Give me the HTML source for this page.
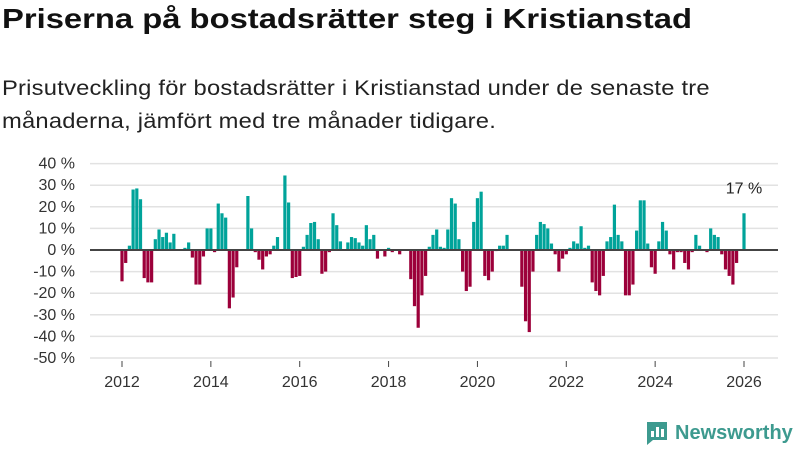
<!DOCTYPE html>
<html><head><meta charset="utf-8"><style>
body{margin:0;width:800px;height:450px;background:#fff;font-family:"Liberation Sans","DejaVu Sans",sans-serif;overflow:hidden;position:relative}
h1{position:absolute;left:2px;top:3px;margin:0;font-size:28px;font-weight:bold;color:#111;transform-origin:0 0;transform:scaleX(1.17);white-space:nowrap}
p{position:absolute;left:2px;top:72px;margin:0;font-size:21px;line-height:33px;color:#222;width:630px;letter-spacing:0.2px;transform-origin:0 0;transform:scaleX(1.13)}
</style></head><body>
<h1>Priserna på bostadsrätter steg i Kristianstad</h1>
<p>Prisutveckling för bostadsrätter i Kristianstad under de senaste tre månaderna, jämfört med tre månader tidigare.</p>
<svg id="chart" width="800" height="450" style="position:absolute;left:0;top:0"></svg>
<div style="position:absolute;left:645px;top:420px;display:flex;align-items:center;gap:6px;color:#3d9a8f;font-size:20px;font-weight:bold">
<svg width="24" height="26"><path d="M2 2h20v18H8l-6 5z" fill="#3d9a8f"/><rect x="6" y="11" width="3" height="6" fill="#fff"/><rect x="11" y="7" width="3" height="10" fill="#fff"/><rect x="16" y="9" width="3" height="8" fill="#fff"/></svg>
<span>Newsworthy</span></div>
<script>
const values=[-14.5,-6,2,28,28.5,23.5,-13,-15,-15,5,9.5,6,8,3.5,7.5,0,0,1,3.5,-3.5,-16,-16,-3,10,10,-1,21.5,17,15,-27,-22,-8,0,0,25,10,-1,-4.5,-9,-3,-2,2,6,
0,34.5,22,-13,-12.5,-12,1.5,7,12.5,13,5,-11,-10,-1,17,11.5,4,0,3.5,6,5.5,3.5,2,11.5,5,7,-4,0,-3,1,-1,0,-2,0,0,-13.5,-26,-36,-21,-12,1.5,7,9.5,
1.5,1,9.5,24,21.5,5,-10,-19,-17,13,24,27,-12,-14,-10,-0.5,2,2,7,0,0,0,-17,-33,-38,-10,7,13,12,10,3,-2,-10,-4,-2,1,4,3,11,1,2,-15,-19,-21,
-12,4,6,21,7,4,-21,-21,-16,9,23,23,3,-8,-11,4,13,9,-2,-9,-1,-1,-6,-9,-1,7,2,0,-1,10,7,6,-2,-9,-12,-16,-6,0,17];
const yTicks=[40,30,20,10,0,-10,-20,-30,-40,-50];
const xTickYears=[2012,2014,2016,2018,2020,2022,2024,2026];
const startYear=2012;
const svg=document.getElementById('chart');const NS='http://www.w3.org/2000/svg';
const n=values.length;
function xi(i){return 122+i*(744-122)/(n-1);}
function xYear(y){return xi((y-startYear)*12);}
function yv(v){return 250-v*2.16;}
function mk(t,a){const e=document.createElementNS(NS,t);for(const k in a)e.setAttribute(k,a[k]);svg.appendChild(e);return e;}
yTicks.forEach(t=>{
 const g=mk('line',{x1:90,x2:778,y1:yv(t),y2:yv(t),stroke:'#e2e2e2','stroke-width':1.5});
 
 
 const l=mk('text',{x:75,y:yv(t)+5,'text-anchor':'end','font-size':16,fill:'#333'});
 l.textContent=t+' %';
 
 
});
values.forEach((v,i)=>{
 const y0=yv(0),y1=yv(v);
 const r=mk('rect',{x:xi(i)-1.6,width:3.2,y:Math.min(y0,y1),height:Math.abs(y1-y0),fill:v>=0?'#00a39a':'#9c003a'});
 
 
});
const z=mk('line',{x1:90,x2:778,y1:yv(0),y2:yv(0),stroke:'#444','stroke-width':2});


xTickYears.forEach(yr=>{
 const x=xYear(yr);
 const tk=mk('line',{x1:x,x2:x,y1:361,y2:367,stroke:'#444','stroke-width':1});
 
 
 const l=mk('text',{x:x,y:387,'text-anchor':'middle','font-size':16,fill:'#333'});
 l.textContent=yr;
 
 
});
const last=values[n-1];
const lab=mk('text',{x:xi(n-1),y:yv(last)-20,'text-anchor':'middle','font-size':16,fill:'#222'});
lab.textContent=Math.round(last)+' %';


</script>
</body></html>
